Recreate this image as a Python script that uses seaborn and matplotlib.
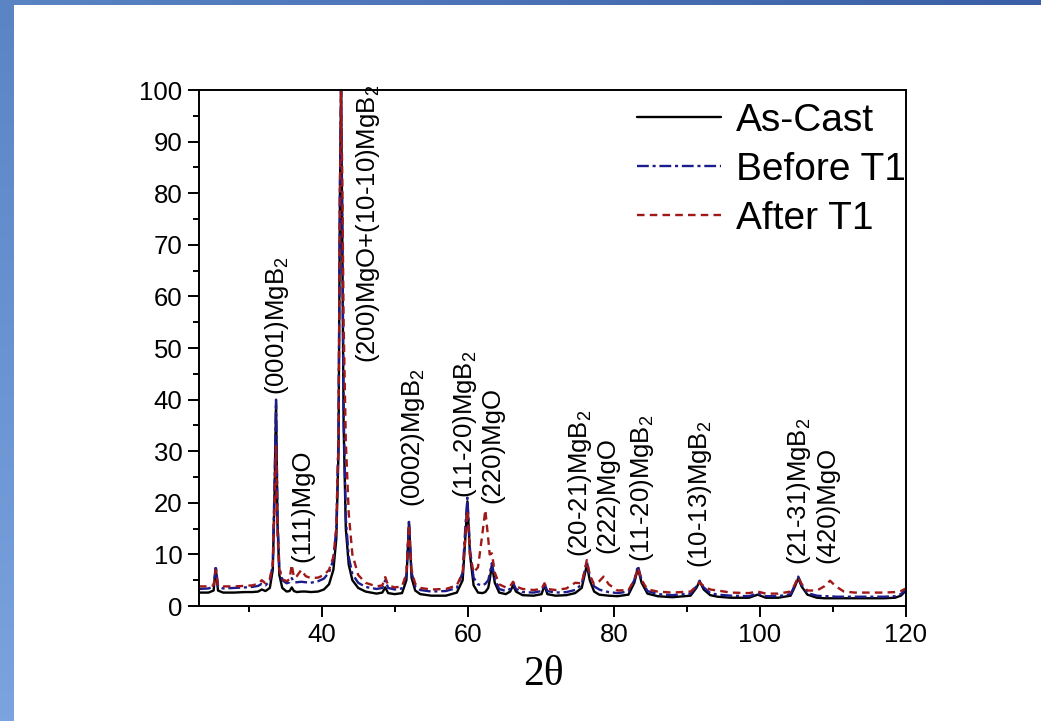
import numpy as np
import pandas as pd
import matplotlib
matplotlib.use("Agg")
import matplotlib.pyplot as plt
from matplotlib.ticker import MultipleLocator
import seaborn as sns

# 2-theta sampling positions (degrees)
two_theta = [
    23.2, 24.5, 25.2, 25.5, 25.8, 26.5, 28.0, 29.5, 30.5, 31.3, 31.8, 32.3, 32.9,
    33.3, 33.55, 33.75, 33.95, 34.2, 34.6, 35.2, 35.6, 35.9, 36.2, 36.6, 37.2,
    37.8, 38.5, 39.5, 40.3, 41.0, 41.6, 42.0, 42.3, 42.5, 42.65, 42.8, 43.0,
    43.3, 43.7, 44.2, 45.0, 46.0, 47.5, 48.3, 48.7, 49.1, 50.0, 51.0, 51.6,
    51.95, 52.3, 52.8, 53.5, 55.0, 57.0, 58.5, 59.3, 59.7, 59.95, 60.3, 60.8,
    61.4, 62.0, 62.4, 62.8, 63.0, 63.3, 63.7, 64.3, 65.2, 65.8, 66.2, 66.6,
    67.5, 69.0, 70.1, 70.5, 70.9, 72.0, 73.5, 74.7, 75.6, 76.0, 76.3, 76.7,
    77.3, 78.0, 78.6, 79.3, 80.5, 82.0, 82.8, 83.3, 83.8, 84.6, 86.0, 88.0,
    90.5, 91.3, 91.75, 92.3, 93.2, 94.2, 96.0, 98.5, 99.7, 100.8, 102.5, 104.2,
    104.8, 105.25, 105.7, 106.5, 107.8, 108.8, 109.6, 110.4, 111.5, 113.0,
    115.0, 117.0, 118.5, 119.3, 120.0,
]

# Normalised intensity (a.u.)
as_cast = [
    2.6, 2.6, 3.0, 7.3, 3.0, 2.6, 2.6, 2.7, 2.7, 2.8, 3.2, 2.9, 3.5,
    7.0, 22.0, 39.5, 16.0, 6.0, 3.5, 2.8, 2.9, 3.6, 2.9, 2.7, 2.8,
    2.8, 2.7, 2.8, 3.2, 4.2, 7.0, 13.0, 30.0, 80.0, 100.0, 75.0, 35.0,
    15.0, 8.0, 5.0, 3.5, 2.8, 2.4, 2.6, 3.6, 2.5, 2.3, 2.5, 5.0,
    16.3, 5.5, 3.0, 2.3, 2.0, 2.0, 2.6, 5.0, 14.0, 20.3, 10.0, 4.0,
    2.6, 2.5, 2.7, 3.5, 5.0, 8.0, 4.5, 2.6, 2.3, 2.8, 4.0, 2.8,
    2.1, 2.0, 2.3, 4.0, 2.3, 2.0, 2.1, 2.5, 3.5, 6.0, 8.0, 5.0,
    2.8, 2.2, 2.1, 2.0, 1.9, 2.2, 4.5, 7.3, 4.5, 2.4, 1.9, 1.7,
    2.0, 3.5, 4.8, 3.2, 2.1, 1.8, 1.6, 1.6, 2.2, 1.6, 1.6, 2.0,
    3.8, 5.4, 3.8, 2.2, 1.6, 1.5, 1.5, 1.5, 1.5, 1.5,
    1.5, 1.5, 1.6, 2.0, 3.0,
]
before_t1 = [
    3.3, 3.4, 3.8, 7.8, 3.8, 3.4, 3.5, 3.6, 3.7, 3.9, 4.3, 4.0, 4.8,
    8.0, 24.0, 40.0, 17.0, 7.5, 5.0, 4.4, 4.6, 5.4, 4.6, 4.6, 4.7,
    4.6, 4.5, 4.8, 5.3, 6.5, 9.0, 15.0, 33.0, 82.0, 100.0, 78.0, 38.0,
    17.0, 9.5, 6.2, 4.5, 3.7, 3.3, 3.5, 5.0, 3.5, 3.2, 3.4, 6.0,
    16.5, 6.5, 3.8, 3.1, 2.8, 2.9, 3.5, 6.5, 16.0, 21.0, 11.0, 5.5,
    4.2, 4.0, 4.3, 5.0, 6.2, 8.3, 5.2, 3.3, 2.9, 3.3, 4.5, 3.3,
    2.7, 2.6, 2.9, 4.3, 2.9, 2.6, 2.7, 3.1, 4.2, 6.8, 8.6, 5.8,
    3.8, 3.2, 2.9, 2.7, 2.5, 2.8, 5.0, 7.8, 5.0, 2.9, 2.3, 2.1,
    2.4, 3.8, 4.9, 3.6, 2.5, 2.2, 2.0, 1.9, 2.4, 1.9, 1.9, 2.3,
    4.1, 5.7, 4.1, 2.5, 2.0, 1.9, 1.9, 1.8, 1.8, 1.8,
    1.8, 1.8, 1.9, 2.3, 3.2,
]
after_t1 = [
    3.8, 3.8, 4.0, 7.0, 4.0, 3.8, 3.8, 3.9, 4.0, 4.3, 5.0, 4.4, 5.3,
    8.0, 20.0, 31.0, 14.0, 7.0, 5.2, 4.8, 5.2, 8.0, 5.5, 5.8, 7.0,
    5.8, 5.4, 5.5, 6.0, 7.0, 9.5, 15.0, 32.0, 80.0, 100.0, 85.0, 55.0,
    32.0, 18.0, 10.0, 6.0, 4.5, 3.8, 4.0, 5.6, 4.0, 3.6, 3.8, 6.3,
    15.8, 7.0, 4.3, 3.5, 3.2, 3.3, 4.0, 6.5, 14.0, 18.5, 10.0, 6.5,
    7.5, 14.0, 18.6, 13.0, 10.0, 10.2, 6.5, 4.2, 3.6, 3.8, 4.7, 3.8,
    3.3, 3.1, 3.3, 4.4, 3.3, 3.1, 3.4, 4.5, 4.4, 6.8, 8.9, 6.0,
    4.2, 4.8, 5.7, 4.2, 3.0, 3.1, 5.0, 7.4, 5.0, 3.2, 2.8, 2.6,
    2.8, 3.8, 4.6, 3.8, 3.2, 3.0, 2.6, 2.5, 2.8, 2.4, 2.4, 2.8,
    4.2, 5.6, 4.3, 3.0, 3.0, 3.8, 4.9, 3.8, 2.8, 2.6,
    2.6, 2.6, 2.7, 2.9, 3.4,
]

series_names = ["As-Cast", "Before T1", "After T1"]

# Reflection labels: text, 2-theta position, intensity at the start of the label
peak_labels = [
    r"(0001)MgB$_2$", r"(111)MgO", r"(200)MgO+(10-10)MgB$_2$", r"(0002)MgB$_2$",
    r"(11-20)MgB$_2$", r"(220)MgO", r"(20-21)MgB$_2$", r"(222)MgO",
    r"(11-20)MgB$_2$", r"(10-13)MgB$_2$", r"(21-31)MgB$_2$", r"(420)MgO",
]
peak_label_x = [33.9, 37.4, 46.3, 52.5, 59.6, 63.3, 75.4, 79.1, 83.9, 91.8, 105.3, 109.2]
peak_label_y = [40.9, 8.5, 47.0, 19.2, 21.0, 20.0, 9.5, 10.3, 8.5, 7.4, 7.9, 8.3]

sns.set_style("ticks")
plt.rcParams["font.family"] = ["Liberation Sans", "DejaVu Sans"]
plt.rcParams["mathtext.fontset"] = "custom"
plt.rcParams["mathtext.rm"] = "Liberation Sans"
plt.rcParams["mathtext.default"] = "regular"
plt.rcParams["text.color"] = "black"
plt.rcParams["axes.labelcolor"] = "black"

df = pd.DataFrame({
    "two_theta": two_theta * 3,
    "intensity": as_cast + before_t1 + after_t1,
    "sample": sum([[n] * len(two_theta) for n in series_names], []),
})

fig = plt.figure(figsize=(10.41, 7.21), dpi=100)
fig.patch.set_facecolor("white")

# Slide frame: blue strips along the left and top edges
left_strip = fig.add_axes([0, 0, 14 / 1041, 1])
left_strip.imshow(np.linspace(0, 1, 100).reshape(-1, 1), aspect="auto",
                  cmap=matplotlib.colors.LinearSegmentedColormap.from_list(
                      "lb", ["#5a84c4", "#7aa3df"]), extent=[0, 1, 1, 0])
left_strip.axis("off")
top_strip = fig.add_axes([0, 1 - 5 / 721, 1, 5 / 721])
top_strip.imshow(np.linspace(0, 1, 100).reshape(1, -1), aspect="auto",
                 cmap=matplotlib.colors.LinearSegmentedColormap.from_list(
                     "tb", ["#5a84c4", "#3a5fa6"]))
top_strip.axis("off")

ax = fig.add_axes([199 / 1041, 1 - 606 / 721, 707 / 1041, 516 / 721])

colors = {"As-Cast": "#000000", "Before T1": "#1c1c8c", "After T1": "#a01818"}
styles = {"As-Cast": "-", "Before T1": (0, (5, 1.6, 1.3, 1.6)), "After T1": (0, (3.2, 2.2))}
for name in series_names:
    sub = df[df["sample"] == name]
    sns.lineplot(data=sub, x="two_theta", y="intensity", ax=ax, label=name,
                 color=colors[name], linestyle=styles[name], linewidth=1.7,
                 sort=False, estimator=None)

for txt, px, py in zip(peak_labels, peak_label_x, peak_label_y):
    ax.text(px, py, txt, rotation=90, ha="center", va="bottom", fontsize=18.5,
            color="black")

ax.set_xlim(23.2, 120)
ax.set_ylim(0, 100)
ax.xaxis.set_major_locator(MultipleLocator(20))
ax.xaxis.set_minor_locator(MultipleLocator(10))
ax.yaxis.set_major_locator(MultipleLocator(10))
ax.yaxis.set_minor_locator(MultipleLocator(5))
ax.tick_params(which="both", direction="out", top=False, right=False,
               width=1.4, labelsize=18.5, colors="black")
ax.tick_params(which="major", length=8, pad=4)
ax.tick_params(which="minor", length=4.5)
for sp in ax.spines.values():
    sp.set_visible(True)
    sp.set_linewidth(1.4)
    sp.set_color("black")

ax.set_ylabel("")
ax.set_xlabel("2\u03b8", fontsize=30, family="Liberation Serif", color="black")
ax.xaxis.set_label_coords(0.487, -0.095)

leg = ax.legend(loc="upper left", bbox_to_anchor=(0.6195, 0.975), frameon=False,
                fontsize=28, handlelength=2.15, handletextpad=0.4,
                labelspacing=0.33, borderpad=0, borderaxespad=0)
for text in leg.get_texts():
    text.set_color("black")
for line in leg.get_lines():
    line.set_linewidth(1.7)

fig.savefig("out.png", dpi=100)
